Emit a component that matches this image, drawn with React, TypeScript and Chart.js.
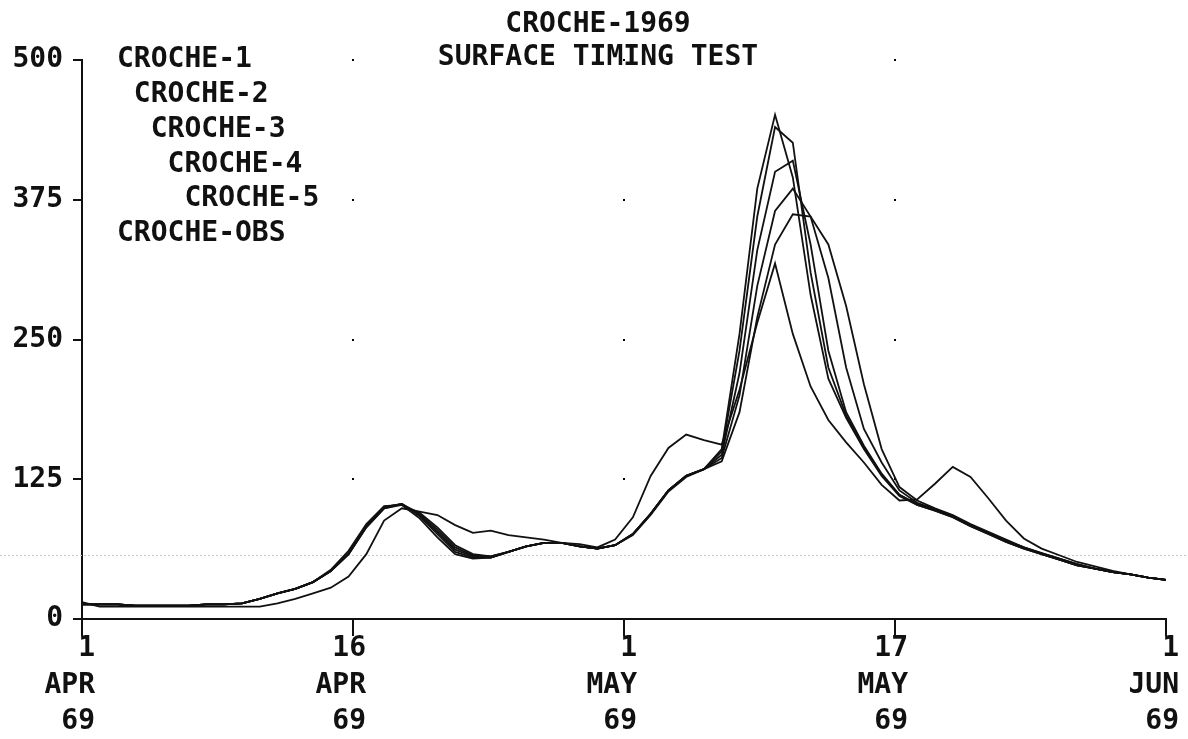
import React, { useEffect, useRef } from 'react';
import { Chart, registerables } from 'chart.js';

Chart.register(...registerables);

const FONT = '"DejaVu Sans Mono", "Liberation Mono", monospace';

const titleLines = ['CROCHE-1969', 'SURFACE TIMING TEST'];
const seriesNames = ['CROCHE-1', 'CROCHE-2', 'CROCHE-3', 'CROCHE-4', 'CROCHE-5', 'CROCHE-OBS'];

// day index from 1 APR 69 (0) to 1 JUN 69 (61)
const days = [
  0, 1, 2, 3, 4, 5, 6, 7, 8, 9,
  10, 11, 12, 13, 14, 15, 16, 17, 18, 19,
  20, 21, 22, 23, 24, 25, 26, 27, 28, 29,
  30, 31, 32, 33, 34, 35, 36, 37, 38, 39,
  40, 41, 42, 43, 44, 45, 46, 47, 48, 49,
  50, 51, 52, 53, 54, 55, 56, 57, 58, 59,
  60, 61,
];

const croche1 = [
  13, 13, 13, 12, 12, 12, 12, 13, 13, 14,
  18, 23, 27, 33, 44, 61, 85, 101, 102, 90,
  73, 58, 54, 55, 60, 65, 68, 68, 65, 63,
  66, 75, 93, 114, 127, 134, 152, 255, 385, 451,
  395, 290, 215, 180, 152, 128, 110, 102, 97, 91,
  83, 76, 69, 63, 58, 53, 48, 45, 42, 40,
  37, 35,
];
const croche2 = [
  13, 13, 13, 12, 12, 12, 12, 13, 13, 14,
  18, 23, 27, 33, 43, 59, 84, 100, 103, 92,
  76, 60, 55, 55, 60, 65, 68, 68, 65, 63,
  66, 76, 94, 115, 128, 134, 150, 240, 360, 440,
  426, 310, 225, 182, 153, 129, 111, 102, 97, 91,
  83, 76, 69, 63, 58, 53, 48, 45, 42, 40,
  37, 35,
];
const croche3 = [
  13, 13, 13, 12, 12, 12, 12, 13, 13, 14,
  18, 23, 27, 33, 43, 58, 83, 100, 103, 93,
  78, 62, 56, 55, 60, 65, 68, 68, 65, 63,
  66, 76, 94, 115, 128, 134, 147, 220, 330, 400,
  410, 335, 240, 185, 155, 130, 111, 103, 98, 92,
  84, 77, 70, 64, 58, 53, 48, 45, 42, 40,
  37, 35,
];
const croche4 = [
  13, 13, 13, 12, 12, 12, 12, 13, 13, 14,
  18, 23, 27, 33, 43, 58, 82, 99, 103, 94,
  80, 64, 57, 56, 60, 65, 68, 68, 65, 63,
  66, 76, 94, 115, 128, 134, 144, 200, 298, 365,
  385, 360, 305, 225, 170, 140, 115, 104, 98, 92,
  84, 77, 70, 64, 59, 54, 49, 45, 42, 40,
  37, 35,
];
const croche5 = [
  13, 13, 13, 12, 12, 12, 12, 13, 13, 14,
  18, 23, 27, 33, 43, 58, 82, 99, 102, 95,
  82, 66, 58, 56, 60, 65, 68, 68, 65, 63,
  66, 76, 94, 115, 128, 134, 141, 185, 270, 335,
  362, 360, 335, 280, 210, 152, 118, 106, 99, 93,
  85, 78, 71, 64, 59, 54, 49, 45, 42, 40,
  37, 35,
];
const crocheObs = [
  15, 11, 11, 11, 11, 11, 11, 11, 11, 11,
  11, 14, 18, 23, 28, 38, 58, 88, 99, 96,
  93, 84, 77, 79, 75, 73, 71, 68, 67, 64,
  71, 91, 128, 153, 165, 160, 156, 205, 265, 318,
  255, 208, 178, 158, 140, 120, 106, 107, 121, 136,
  127, 108, 88, 72, 63, 57, 51, 47, 43, 40,
  37, 35,
];

const seriesValues = [croche1, croche2, croche3, croche4, croche5, crocheObs];

const xTickDays = [0, 15.25, 30.5, 45.75, 61];
const xTickLabels = [
  ['1', 'APR', '69'],
  ['16', 'APR', '69'],
  ['1', 'MAY', '69'],
  ['17', 'MAY', '69'],
  ['1', 'JUN', '69'],
];
const yTickValues = [0, 125, 250, 375, 500];
const scanLineValue = 57;

const decorPlugin = {
  id: 'decor',
  beforeDatasetsDraw(chart: any) {
    const { ctx, scales, width } = chart;
    const x = scales.x;
    const y = scales.y;
    ctx.save();
    // faint scan line of the original sheet
    ctx.strokeStyle = '#c6c6c6';
    ctx.lineWidth = 1;
    ctx.setLineDash([2, 2]);
    const sy = Math.round(y.getPixelForValue(scanLineValue)) + 0.5;
    ctx.beginPath();
    ctx.moveTo(0, sy);
    ctx.lineTo(width, sy);
    ctx.stroke();
    ctx.setLineDash([]);
    // grid dots at tick intersections
    ctx.fillStyle = '#000';
    xTickDays.slice(1, 4).forEach((d) => {
      yTickValues.slice(1).forEach((v) => {
        ctx.fillRect(Math.round(x.getPixelForValue(d)) - 1, Math.round(y.getPixelForValue(v)) - 1, 2, 2);
      });
    });
    ctx.restore();
  },
  afterDraw(chart: any) {
    const { ctx, scales, width } = chart;
    const x = scales.x;
    const y = scales.y;
    ctx.save();
    ctx.fillStyle = '#111';
    ctx.font = `bold 28px ${FONT}`;
    ctx.textBaseline = 'middle';
    ctx.textAlign = 'center';
    ctx.fillText(titleLines[0], width / 2 + 4, 25);
    ctx.fillText(titleLines[1], width / 2 + 4, 58);
    ctx.textAlign = 'left';
    const cw = ctx.measureText('C').width;
    chart.data.datasets.forEach((ds: any, i: number) => {
      const indent = ds.label === 'CROCHE-OBS' ? 0 : i;
      ctx.fillText(ds.label, x.left + 35 + indent * cw, y.top + i * 34.8);
    });
    ctx.restore();
  },
};

export default function App() {
  const canvasRef = useRef<HTMLCanvasElement | null>(null);

  useEffect(() => {
    if (!canvasRef.current) return;
    const tickFont = { family: FONT, size: 28, weight: 'bold', lineHeight: 1.3 };
    const chart = new Chart(canvasRef.current, {
      type: 'line',
      data: {
        datasets: seriesValues.map((vals, i) => ({
          label: seriesNames[i],
          data: vals.map((v, j) => ({ x: days[j], y: v })),
          borderColor: '#111',
          borderWidth: 1.8,
          pointRadius: 0,
          tension: 0,
          fill: false,
        })),
      },
      options: {
        responsive: true,
        maintainAspectRatio: false,
        animation: false,
        layout: { padding: { top: 60, right: 22, bottom: 0, left: 0 } },
        plugins: {
          legend: { display: false },
          title: { display: false },
          tooltip: { enabled: false },
        },
        scales: {
          x: {
            type: 'linear',
            min: 0,
            max: 61,
            afterBuildTicks: (s: any) => {
              s.ticks = xTickDays.map((v) => ({ value: v }));
            },
            afterFit: (s: any) => {
              s.height = 120;
            },
            ticks: {
              callback: (_v: any, i: number) => xTickLabels[i],
              align: 'end',
              labelOffset: 13,
              padding: -5,
              maxRotation: 0,
              minRotation: 0,
              autoSkip: false,
              color: '#111',
              font: tickFont,
            },
            grid: { drawOnChartArea: false, drawTicks: true, tickLength: 17, color: '#111', lineWidth: 2 },
            border: { display: true, color: '#111', width: 2 },
          },
          y: {
            type: 'linear',
            min: 0,
            max: 500,
            afterBuildTicks: (s: any) => {
              s.ticks = yTickValues.map((v) => ({ value: v }));
            },
            afterFit: (s: any) => {
              s.width = 82;
            },
            ticks: { color: '#111', padding: 10, font: tickFont },
            grid: { drawOnChartArea: false, drawTicks: true, tickLength: 9, color: '#111', lineWidth: 2 },
            border: { display: true, color: '#111', width: 2 },
          },
        },
      } as any,
      plugins: [decorPlugin],
    });
    return () => chart.destroy();
  }, []);

  return (
    <div style={{ position: 'fixed', left: 0, top: 0, width: 1188, height: 739, background: '#fff' }}>
      <canvas ref={canvasRef} />
    </div>
  );
}
